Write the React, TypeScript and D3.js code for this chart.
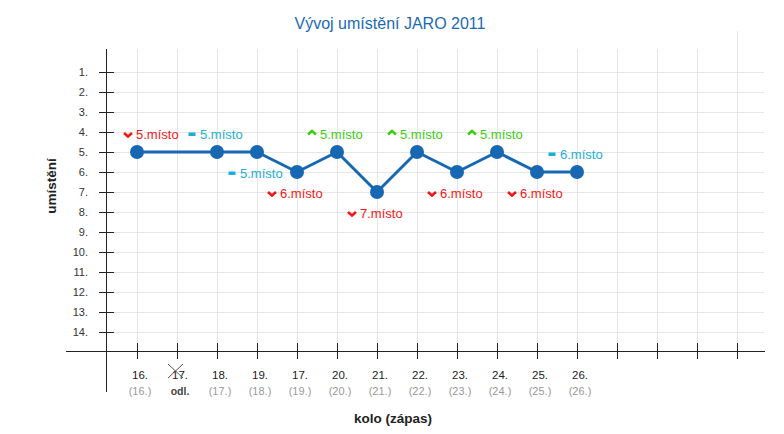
import React from "react";
import * as d3 from "d3";

const title = "Vývoj umístění JARO 2011";
const yTitle = "umístění";
const xTitle = "kolo (zápas)";

const rounds = ["16.", "17.", "18.", "19.", "17.", "20.", "21.", "22.", "23.", "24.", "25.", "26."];
const matches = ["(16.)", "odl.", "(17.)", "(18.)", "(19.)", "(20.)", "(21.)", "(22.)", "(23.)", "(24.)", "(25.)", "(26.)"];
const cancelled = [false, true, false, false, false, false, false, false, false, false, false, false];
const positions: (number | null)[] = [5, null, 5, 5, 6, 5, 7, 5, 6, 5, 6, 6];
const trends: (string | null)[] = ["down", null, "same", "same", "down", "up", "down", "up", "down", "up", "down", "same"];
const labelSides: (string | null)[] = ["above", null, "above", "below", "below", "above", "below", "above", "below", "above", "below", "above"];
const yTicks = d3.range(1, 15);
const slotCount = 16;

const W = 784;
const H = 434;
const LINE = "#1767b2";
const TREND_COLOR: Record<string, string> = { down: "#f01818", up: "#3ccc10", same: "#1ab0d6" };
const FONT = "'Liberation Sans', Arial, Helvetica, sans-serif";

export default function App() {
  const x = d3.scaleLinear().domain([0, slotCount - 1]).range([137, 737]);
  const y = d3.scaleLinear().domain([0, 15]).range([52, 352]);
  const axisX = 106;
  const axisY = 351.5;

  const pts = positions
    .map((v, i) => ({ v, i }))
    .filter((d) => d.v !== null) as { v: number; i: number }[];
  const line = d3
    .line<{ v: number; i: number }>()
    .x((d) => x(d.i))
    .y((d) => y(d.v));

  const slots = d3.range(slotCount);

  return (
    <svg
      width={W}
      height={H}
      style={{ position: "fixed", left: 0, top: 0, background: "#fff" }}
      fontFamily={FONT}
    >
      <rect x={0} y={0} width={W} height={H} fill="#fff" />
      {yTicks.map((t) => (
        <line key={"hg" + t} x1={axisX} x2={764} y1={Math.round(y(t)) + 0.5} y2={Math.round(y(t)) + 0.5} stroke="#e6e6e6" />
      ))}
      {slots.map((s) => (
        <line
          key={"vg" + s}
          x1={Math.round(x(s)) + 0.5}
          x2={Math.round(x(s)) + 0.5}
          y1={s === slotCount - 1 ? 31 : 49}
          y2={343}
          stroke="#e6e6e6"
        />
      ))}
      <line x1={axisX + 0.5} x2={axisX + 0.5} y1={49} y2={392} stroke="#222" />
      <line x1={66} x2={765} y1={axisY} y2={axisY} stroke="#222" />
      {yTicks.map((t) => (
        <g key={"yt" + t}>
          <line x1={99} x2={114} y1={Math.round(y(t)) + 0.5} y2={Math.round(y(t)) + 0.5} stroke="#222" />
          <text x={88} y={y(t) + 4} textAnchor="end" fontSize={11} fill="#333">
            {t + "."}
          </text>
        </g>
      ))}
      {slots.map((s) => (
        <line key={"xt" + s} x1={Math.round(x(s)) + 0.5} x2={Math.round(x(s)) + 0.5} y1={343} y2={359} stroke="#222" />
      ))}
      {rounds.map((r, i) => (
        <g key={"xl" + i}>
          <text x={x(i) + 3} y={379} textAnchor="middle" fontSize={11.5} fill="#222">
            {r}
          </text>
          {cancelled[i] ? (
            <g stroke="#444" strokeWidth={0.9}>
              <line x1={x(i) - 9} y1={364} x2={x(i) + 6} y2={378} />
              <line x1={x(i) + 6} y1={364} x2={x(i) - 9} y2={378} />
            </g>
          ) : null}
          <text
            x={x(i) + 3}
            y={395}
            textAnchor="middle"
            fontSize={cancelled[i] ? 10.5 : 11}
            fontWeight={cancelled[i] ? "bold" : "normal"}
            fill={cancelled[i] ? "#444" : "#999"}
          >
            {matches[i]}
          </text>
        </g>
      ))}
      <text x={390} y={29} textAnchor="middle" fontSize={16} fill="#1a6ab3">
        {title}
      </text>
      <text x={393} y={423} textAnchor="middle" fontSize={13.5} fontWeight="bold" fill="#222">
        {xTitle}
      </text>
      <text
        transform={`translate(56,186) rotate(-90)`}
        textAnchor="middle"
        fontSize={13.5}
        fontWeight="bold"
        fill="#222"
      >
        {yTitle}
      </text>
      <path d={line(pts) || ""} fill="none" stroke={LINE} strokeWidth={3} strokeLinejoin="round" />
      {pts.map((d) => (
        <circle key={"p" + d.i} cx={x(d.i)} cy={y(d.v)} r={7} fill={LINE} />
      ))}
      {pts.map((d) => {
        const trend = trends[d.i] as string;
        const side = labelSides[d.i];
        const px = x(d.i);
        const cy = side === "above" ? y(d.v) - 18 : y(d.v) + 21;
        const left = Math.max(px - 30, axisX + 17);
        const color = TREND_COLOR[trend];
        const sx = left + 5;
        let sym;
        if (trend === "down") {
          sym = <path d={`M${sx - 4},${cy - 1} L${sx},${cy + 2.5} L${sx + 4},${cy - 1}`} fill="none" stroke={color} strokeWidth={2.6} />;
        } else if (trend === "up") {
          sym = <path d={`M${sx - 4},${cy + 0.5} L${sx},${cy - 3} L${sx + 4},${cy + 0.5}`} fill="none" stroke={color} strokeWidth={2.6} />;
        } else {
          sym = <rect x={sx - 3.5} y={cy - 1.5} width={7} height={3.5} fill={color} />;
        }
        return (
          <g key={"l" + d.i}>
            {sym}
            <text x={left + 13} y={cy + 4.5} fontSize={13} fill={color}>
              {d.v + ".místo"}
            </text>
          </g>
        );
      })}
    </svg>
  );
}
